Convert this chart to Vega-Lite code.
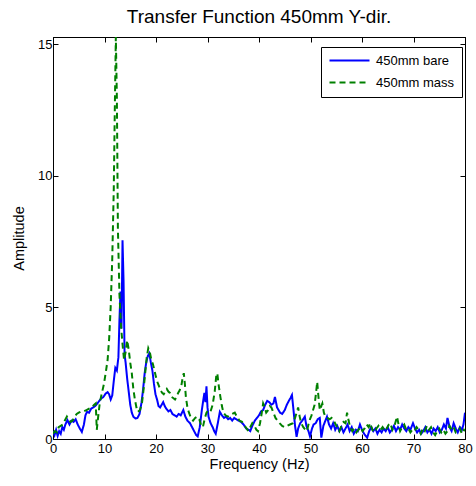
{
  "$schema": "https://vega.github.io/schema/vega-lite/v6.json",
  "width": 412,
  "height": 402,
  "autosize": {"type": "none"},
  "padding": {"left": 53, "top": 37, "right": 11, "bottom": 47},
  "background": "white",
  "title": {
    "text": "Transfer Function 450mm Y-dir.",
    "font": "Liberation Sans",
    "fontSize": 19,
    "fontWeight": "normal",
    "color": "black",
    "anchor": "middle",
    "offset": 10
  },
  "datasets": {
    "bare": [
      {"f":0.0,"a":0.30},{"f":0.3,"a":0.15},{"f":0.6,"a":0.35},{"f":0.9,"a":0.12},{"f":1.2,"a":0.30},{"f":1.5,"a":0.20},{"f":1.8,"a":0.45},{"f":2.1,"a":0.35},{"f":2.4,"a":0.55},{"f":2.8,"a":0.72},
      {"f":3.2,"a":0.55},{"f":3.6,"a":0.70},{"f":4.0,"a":0.65},{"f":4.4,"a":0.75},{"f":4.8,"a":0.55},{"f":5.2,"a":0.40},{"f":5.6,"a":0.27},{"f":6.0,"a":0.55},{"f":6.3,"a":0.90},{"f":6.6,"a":1.03},
      {"f":7.0,"a":1.00},{"f":7.4,"a":1.15},{"f":7.8,"a":1.20},{"f":8.2,"a":1.25},{"f":8.6,"a":1.35},{"f":9.0,"a":1.45},{"f":9.4,"a":1.55},{"f":9.8,"a":1.60},{"f":10.2,"a":1.72},{"f":10.6,"a":1.78},
      {"f":10.9,"a":1.70},{"f":11.2,"a":1.50},{"f":11.5,"a":1.65},{"f":11.8,"a":2.20},{"f":12.1,"a":2.70},{"f":12.4,"a":2.60},{"f":12.7,"a":3.10},{"f":12.9,"a":4.50},{"f":13.1,"a":5.60},{"f":13.3,"a":4.20},
      {"f":13.5,"a":7.55},{"f":13.7,"a":6.00},{"f":13.9,"a":3.20},{"f":14.1,"a":2.90},{"f":14.4,"a":2.30},{"f":14.7,"a":1.80},{"f":15.0,"a":1.30},{"f":15.3,"a":1.00},{"f":15.6,"a":0.85},{"f":16.0,"a":0.78},
      {"f":16.4,"a":0.80},{"f":16.8,"a":0.95},{"f":17.2,"a":1.40},{"f":17.5,"a":1.90},{"f":17.8,"a":2.50},{"f":18.1,"a":2.90},{"f":18.4,"a":3.15},{"f":18.7,"a":3.25},{"f":19.0,"a":2.90},{"f":19.3,"a":2.60},
      {"f":19.6,"a":2.10},{"f":19.9,"a":1.70},{"f":20.2,"a":1.50},{"f":20.5,"a":1.25},{"f":20.8,"a":1.20},{"f":21.1,"a":1.30},{"f":21.4,"a":1.40},{"f":21.7,"a":1.25},{"f":22.0,"a":1.15},{"f":22.4,"a":1.05},
      {"f":22.8,"a":1.10},{"f":23.2,"a":0.95},{"f":23.6,"a":0.90},{"f":24.0,"a":0.85},{"f":24.4,"a":0.95},{"f":24.8,"a":0.90},{"f":25.3,"a":1.10},{"f":25.7,"a":0.85},{"f":26.1,"a":0.70},{"f":26.6,"a":0.60},
      {"f":27.0,"a":0.45},{"f":27.4,"a":0.30},{"f":27.8,"a":0.15},{"f":28.1,"a":0.10},{"f":28.5,"a":0.45},{"f":28.9,"a":1.10},{"f":29.2,"a":1.50},{"f":29.4,"a":1.75},{"f":29.6,"a":1.40},{"f":29.8,"a":2.00},
      {"f":30.0,"a":1.20},{"f":30.2,"a":0.85},{"f":30.6,"a":0.60},{"f":31.0,"a":0.45},{"f":31.3,"a":0.30},{"f":31.6,"a":0.20},{"f":32.0,"a":0.60},{"f":32.4,"a":1.03},{"f":32.8,"a":0.90},{"f":33.2,"a":0.80},
      {"f":33.6,"a":0.85},{"f":34.0,"a":0.75},{"f":34.4,"a":0.80},{"f":34.8,"a":0.70},{"f":35.2,"a":0.80},{"f":35.6,"a":0.75},{"f":36.0,"a":0.70},{"f":36.5,"a":0.65},{"f":37.0,"a":0.55},{"f":37.5,"a":0.40},
      {"f":38.0,"a":0.35},{"f":38.3,"a":0.30},{"f":38.7,"a":0.50},{"f":39.2,"a":0.70},{"f":39.6,"a":0.80},{"f":40.0,"a":0.90},{"f":40.4,"a":1.05},{"f":40.8,"a":1.10},{"f":41.2,"a":1.30},{"f":41.6,"a":1.45},
      {"f":42.0,"a":1.40},{"f":42.4,"a":1.30},{"f":42.8,"a":1.35},{"f":43.1,"a":1.60},{"f":43.5,"a":1.20},{"f":43.8,"a":1.10},{"f":44.1,"a":1.00},{"f":44.5,"a":0.95},{"f":45.0,"a":1.10},{"f":45.4,"a":1.30},
      {"f":45.8,"a":1.45},{"f":46.1,"a":1.55},{"f":46.4,"a":1.67},{"f":46.7,"a":1.10},{"f":47.0,"a":0.50},{"f":47.3,"a":0.08},{"f":47.6,"a":0.40},{"f":48.0,"a":0.60},{"f":48.4,"a":0.70},{"f":48.9,"a":0.85},
      {"f":49.2,"a":0.50},{"f":49.6,"a":0.30},{"f":49.9,"a":0.10},{"f":50.3,"a":0.40},{"f":50.6,"a":0.55},{"f":51.0,"a":0.60},{"f":51.4,"a":0.75},{"f":51.8,"a":0.80},{"f":52.1,"a":0.05},{"f":52.5,"a":0.50},
      {"f":52.9,"a":0.70},{"f":53.2,"a":0.85},{"f":53.6,"a":0.55},{"f":54.0,"a":0.40},{"f":54.4,"a":0.60},{"f":54.8,"a":0.35},{"f":55.2,"a":0.50},{"f":55.6,"a":0.30},{"f":56.0,"a":0.45},{"f":56.4,"a":0.25},
      {"f":56.8,"a":0.40},{"f":57.2,"a":0.55},{"f":57.6,"a":0.30},{"f":58.0,"a":0.45},{"f":58.4,"a":0.20},{"f":58.8,"a":0.35},{"f":59.2,"a":0.30},{"f":59.6,"a":0.55},{"f":60.0,"a":0.35},{"f":60.4,"a":0.20},
      {"f":60.8,"a":0.10},{"f":61.0,"a":0.05},{"f":61.4,"a":0.30},{"f":61.8,"a":0.45},{"f":62.2,"a":0.30},{"f":62.6,"a":0.40},{"f":63.0,"a":0.20},{"f":63.4,"a":0.35},{"f":63.8,"a":0.25},{"f":64.2,"a":0.40},
      {"f":64.6,"a":0.30},{"f":65.0,"a":0.45},{"f":65.4,"a":0.25},{"f":65.8,"a":0.35},{"f":66.2,"a":0.50},{"f":66.6,"a":0.30},{"f":67.0,"a":0.45},{"f":67.4,"a":0.35},{"f":67.8,"a":0.55},{"f":68.2,"a":0.40},
      {"f":68.6,"a":0.30},{"f":69.0,"a":0.45},{"f":69.4,"a":0.35},{"f":69.9,"a":0.60},{"f":70.3,"a":0.40},{"f":70.7,"a":0.25},{"f":71.1,"a":0.35},{"f":71.5,"a":0.20},{"f":71.9,"a":0.30},{"f":72.3,"a":0.45},
      {"f":72.7,"a":0.25},{"f":73.1,"a":0.35},{"f":73.5,"a":0.20},{"f":73.9,"a":0.40},{"f":74.3,"a":0.30},{"f":74.7,"a":0.45},{"f":75.1,"a":0.25},{"f":75.5,"a":0.35},{"f":75.9,"a":0.55},{"f":76.3,"a":0.40},
      {"f":76.6,"a":0.80},{"f":77.0,"a":0.45},{"f":77.4,"a":0.30},{"f":77.8,"a":0.60},{"f":78.2,"a":0.40},{"f":78.6,"a":0.25},{"f":79.0,"a":0.45},{"f":79.4,"a":0.35},{"f":79.7,"a":0.55},{"f":80.0,"a":1.00}
    ],
    "mass": [
      {"f":0.0,"a":0.20},{"f":0.4,"a":0.30},{"f":0.8,"a":0.25},{"f":1.1,"a":0.45},{"f":1.5,"a":0.50},{"f":1.9,"a":0.55},{"f":2.3,"a":0.70},{"f":2.7,"a":0.85},{"f":3.0,"a":0.75},{"f":3.4,"a":0.65},
      {"f":3.8,"a":0.70},{"f":4.2,"a":0.85},{"f":4.6,"a":0.95},{"f":5.0,"a":1.00},{"f":5.5,"a":1.05},{"f":6.0,"a":1.05},{"f":6.5,"a":1.10},{"f":7.0,"a":1.15},{"f":7.5,"a":1.20},{"f":8.0,"a":1.30},
      {"f":8.3,"a":1.35},{"f":8.5,"a":0.35},{"f":8.8,"a":0.90},{"f":9.1,"a":1.40},{"f":9.5,"a":1.75},{"f":9.9,"a":2.10},{"f":10.3,"a":2.60},{"f":10.6,"a":3.00},{"f":10.9,"a":3.80},{"f":11.2,"a":5.00},
      {"f":11.5,"a":6.80},{"f":11.8,"a":9.50},{"f":12.0,"a":12.50},{"f":12.2,"a":15.27},{"f":12.4,"a":13.00},{"f":12.6,"a":8.00},{"f":12.9,"a":5.50},{"f":13.2,"a":4.30},{"f":13.5,"a":3.60},{"f":13.8,"a":3.00},
      {"f":14.1,"a":3.30},{"f":14.4,"a":3.75},{"f":14.7,"a":3.40},{"f":15.0,"a":2.90},{"f":15.3,"a":2.50},{"f":15.6,"a":1.90},{"f":15.9,"a":1.50},{"f":16.2,"a":1.20},{"f":16.5,"a":1.03},{"f":16.9,"a":1.10},
      {"f":17.3,"a":1.40},{"f":17.6,"a":1.90},{"f":17.9,"a":2.50},{"f":18.2,"a":3.10},{"f":18.5,"a":3.45},{"f":18.8,"a":3.30},{"f":19.1,"a":3.00},{"f":19.4,"a":2.85},{"f":19.7,"a":2.60},{"f":20.0,"a":2.35},
      {"f":20.3,"a":2.15},{"f":20.6,"a":2.00},{"f":20.9,"a":1.85},{"f":21.2,"a":1.75},{"f":21.5,"a":1.70},{"f":21.8,"a":1.80},{"f":22.1,"a":1.90},{"f":22.4,"a":1.80},{"f":22.7,"a":1.75},{"f":23.0,"a":1.60},
      {"f":23.4,"a":1.55},{"f":23.7,"a":1.50},{"f":24.0,"a":1.60},{"f":24.3,"a":1.75},{"f":24.6,"a":1.85},{"f":24.9,"a":2.00},{"f":25.2,"a":2.35},{"f":25.4,"a":2.50},{"f":25.6,"a":2.10},{"f":25.8,"a":1.60},
      {"f":26.1,"a":1.20},{"f":26.4,"a":1.00},{"f":26.8,"a":0.80},{"f":27.2,"a":0.70},{"f":27.6,"a":0.80},{"f":28.0,"a":0.85},{"f":28.4,"a":0.75},{"f":28.8,"a":0.50},{"f":29.1,"a":0.45},{"f":29.5,"a":0.80},
      {"f":29.8,"a":1.00},{"f":30.2,"a":1.10},{"f":30.6,"a":1.05},{"f":31.0,"a":1.30},{"f":31.4,"a":1.80},{"f":31.7,"a":2.40},{"f":31.9,"a":2.50},{"f":32.2,"a":2.00},{"f":32.5,"a":1.60},{"f":32.8,"a":1.25},
      {"f":33.1,"a":1.00},{"f":33.5,"a":0.90},{"f":34.0,"a":0.85},{"f":34.4,"a":0.90},{"f":34.8,"a":0.95},{"f":35.3,"a":1.00},{"f":35.7,"a":0.85},{"f":36.2,"a":0.70},{"f":36.7,"a":0.65},{"f":37.2,"a":0.50},
      {"f":37.6,"a":0.40},{"f":37.9,"a":0.30},{"f":38.3,"a":0.45},{"f":38.7,"a":0.60},{"f":39.1,"a":0.50},{"f":39.5,"a":0.35},{"f":39.8,"a":0.30},{"f":40.2,"a":0.60},{"f":40.5,"a":0.95},{"f":40.8,"a":1.35},
      {"f":41.1,"a":1.20},{"f":41.4,"a":1.00},{"f":41.8,"a":1.10},{"f":42.1,"a":1.25},{"f":42.4,"a":1.20},{"f":42.8,"a":1.00},{"f":43.2,"a":0.80},{"f":43.6,"a":0.70},{"f":44.0,"a":0.60},{"f":44.5,"a":0.50},
      {"f":45.0,"a":0.45},{"f":45.5,"a":0.50},{"f":46.0,"a":0.55},{"f":46.6,"a":0.60},{"f":47.0,"a":0.80},{"f":47.3,"a":1.00},{"f":47.6,"a":1.20},{"f":47.9,"a":0.85},{"f":48.2,"a":0.60},{"f":48.6,"a":0.45},
      {"f":49.0,"a":0.35},{"f":49.3,"a":0.30},{"f":49.6,"a":0.55},{"f":49.9,"a":0.75},{"f":50.2,"a":0.90},{"f":50.5,"a":1.10},{"f":50.8,"a":1.30},{"f":51.1,"a":1.80},{"f":51.3,"a":2.17},{"f":51.5,"a":1.70},
      {"f":51.8,"a":1.10},{"f":52.1,"a":1.25},{"f":52.3,"a":1.35},{"f":52.6,"a":1.00},{"f":52.9,"a":0.85},{"f":53.3,"a":0.80},{"f":53.7,"a":0.75},{"f":54.1,"a":0.80},{"f":54.5,"a":0.70},{"f":54.9,"a":0.55},
      {"f":55.3,"a":0.40},{"f":55.6,"a":0.30},{"f":56.0,"a":0.50},{"f":56.4,"a":0.65},{"f":56.8,"a":0.60},{"f":57.1,"a":1.00},{"f":57.4,"a":0.70},{"f":57.7,"a":0.45},{"f":58.1,"a":0.30},{"f":58.5,"a":0.40},
      {"f":58.9,"a":0.25},{"f":59.3,"a":0.35},{"f":59.7,"a":0.45},{"f":60.1,"a":0.30},{"f":60.5,"a":0.40},{"f":60.9,"a":0.55},{"f":61.3,"a":0.45},{"f":61.6,"a":0.60},{"f":62.0,"a":0.35},{"f":62.4,"a":0.25},
      {"f":62.8,"a":0.40},{"f":63.2,"a":0.50},{"f":63.6,"a":0.35},{"f":64.0,"a":0.45},{"f":64.4,"a":0.30},{"f":64.8,"a":0.40},{"f":65.2,"a":0.55},{"f":65.5,"a":0.60},{"f":65.9,"a":0.35},{"f":66.3,"a":0.50},
      {"f":66.8,"a":0.85},{"f":67.1,"a":0.55},{"f":67.4,"a":0.30},{"f":67.8,"a":0.45},{"f":68.2,"a":0.55},{"f":68.6,"a":0.35},{"f":69.0,"a":0.40},{"f":69.4,"a":0.25},{"f":69.8,"a":0.35},{"f":70.2,"a":0.30},
      {"f":70.6,"a":0.45},{"f":71.0,"a":0.35},{"f":71.4,"a":0.20},{"f":71.8,"a":0.40},{"f":72.2,"a":0.30},{"f":72.6,"a":0.50},{"f":73.0,"a":0.35},{"f":73.4,"a":0.45},{"f":73.8,"a":0.25},{"f":74.2,"a":0.15},
      {"f":74.6,"a":0.30},{"f":75.0,"a":0.40},{"f":75.4,"a":0.25},{"f":75.8,"a":0.35},{"f":76.2,"a":0.20},{"f":76.6,"a":0.30},{"f":77.0,"a":0.50},{"f":77.4,"a":0.35},{"f":77.8,"a":0.45},{"f":78.2,"a":0.25},
      {"f":78.6,"a":0.30},{"f":79.0,"a":0.40},{"f":79.4,"a":0.20},{"f":79.8,"a":0.35},{"f":80.0,"a":0.30}
    ]
  },
  "layer": [
    {
      "layer": [
        {
          "data": {"name": "bare"},
          "mark": {"type": "line", "strokeWidth": 2, "clip": true},
          "encoding": {
            "x": {"field": "f", "type": "quantitative"},
            "y": {"field": "a", "type": "quantitative"},
            "color": {"datum": "450mm bare"},
            "strokeDash": {"datum": "450mm bare"}
          }
        },
        {
          "data": {"name": "mass"},
          "mark": {"type": "line", "strokeWidth": 2, "clip": true},
          "encoding": {
            "x": {"field": "f", "type": "quantitative"},
            "y": {"field": "a", "type": "quantitative"},
            "color": {"datum": "450mm mass"},
            "strokeDash": {"datum": "450mm mass"}
          }
        }
      ],
      "encoding": {
        "x": {
          "field": "f",
          "type": "quantitative",
          "title": "Frequency (Hz)",
          "scale": {"domain": [0, 80], "nice": false, "zero": false},
          "axis": {"values": [0, 10, 20, 30, 40, 50, 60, 70, 80], "orient": "bottom", "labelPadding": 8, "titlePadding": 2}
        },
        "y": {
          "field": "a",
          "type": "quantitative",
          "title": "Amplitude",
          "scale": {"domain": [0, 15.27], "nice": false},
          "axis": {"values": [0, 5, 10, 15], "orient": "left", "labelPadding": 6, "titlePadding": 11}
        },
        "color": {
          "datum": "450mm bare",
          "scale": {"domain": ["450mm bare", "450mm mass"], "range": ["#0000ff", "#008000"]},
          "legend": {"title": null}
        },
        "strokeDash": {
          "datum": "450mm bare",
          "scale": {"domain": ["450mm bare", "450mm mass"], "range": [[1, 0], [6, 4]]},
          "legend": {"title": null}
        }
      }
    },
    {
      "data": {"name": "bare"},
      "mark": {"type": "line", "strokeOpacity": 0},
      "encoding": {
        "x": {
          "field": "f",
          "type": "quantitative",
          "axis": {"orient": "top", "values": [0, 10, 20, 30, 40, 50, 60, 70, 80], "labels": false, "title": null}
        },
        "y": {
          "field": "a",
          "type": "quantitative",
          "axis": {"orient": "right", "values": [0, 5, 10, 15], "labels": false, "title": null}
        }
      }
    }
  ],
  "resolve": {"axis": {"x": "independent", "y": "independent"}},
  "config": {
    "view": {"stroke": "black", "strokeWidth": 1},
    "axis": {
      "grid": false,
      "domainColor": "black",
      "domainWidth": 1,
      "tickColor": "black",
      "tickWidth": 1,
      "tickSize": -5,
      "labelColor": "black",
      "labelFont": "Liberation Sans",
      "labelFontSize": 13,
      "labelPadding": 5,
      "labelFlush": false,
      "labelOverlap": false,
      "titleColor": "black",
      "titleFont": "Liberation Sans",
      "titleFontSize": 14.5,
      "titleFontWeight": "normal"
    },
    "legend": {
      "orient": "none",
      "legendX": 268,
      "legendY": 10,
      "strokeColor": "black",
      "fillColor": "white",
      "padding": 7,
      "symbolType": "M-1,0H7",
      "symbolSize": 100,
      "symbolStrokeWidth": 2,
      "labelFont": "Liberation Sans",
      "labelFontSize": 13,
      "labelColor": "black",
      "labelOffset": 35,
      "rowPadding": 8,
      "cornerRadius": 0
    }
  }
}
